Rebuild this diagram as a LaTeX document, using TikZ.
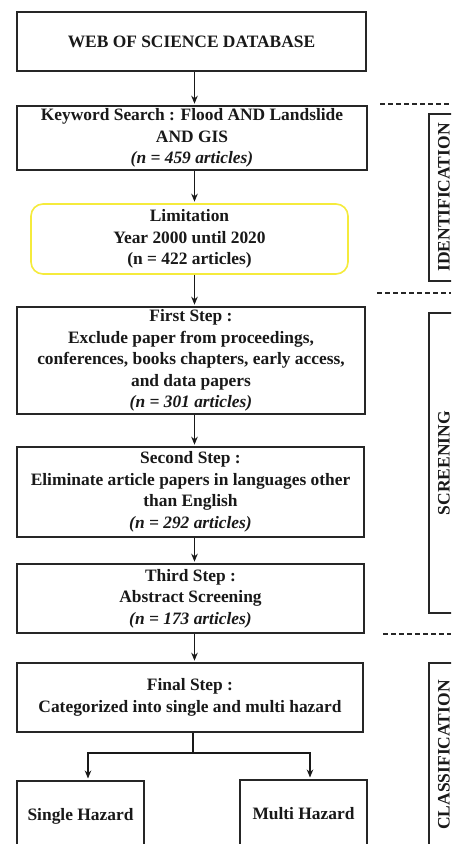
\documentclass[tikz,border=0pt]{standalone}
\usepackage{fontspec}
\setmainfont{Liberation Serif}
\usetikzlibrary{calc,arrows.meta}
\begin{document}
\begin{tikzpicture}[x=1pt,y=-1pt,
  box/.style={draw=black!85, line width=1.6pt, inner sep=0pt, align=center,
    font=\bfseries\fontsize{17.4}{21.6}\selectfont, text=black!90},
  limbox/.style={box, draw={rgb,255:red,245;green,235;blue,60}, rounded corners=12pt},
  sidebox/.style={draw=black!85, line width=1.6pt, inner sep=0pt, rotate=90,
    font=\bfseries\fontsize{17.5}{20}\selectfont, text=black!90},
  arr/.style={line width=1.5pt, draw=black!90, -{Stealth[length=8pt,width=6.5pt]}, shorten >=1.5pt},
  link/.style={line width=1.5pt, draw=black!90},
  dashline/.style={line width=1.4pt, draw=black!85, dash pattern=on 5pt off 3pt}
]
\fill[white] (0,0) rectangle (451,844);
\clip (0,0) rectangle (451,844);

\node[box, minimum width=349pt, minimum height=59pt] (wos) at (191.5,41.5) {WEB OF SCIENCE DATABASE};
\node[box, minimum width=350pt, minimum height=64pt] (kw) at (192,138) {Keyword Search : Flood AND Landslide\\AND GIS\\\textit{(n = 459 articles)}};
\node[limbox, minimum width=317pt, minimum height=70pt] (lim) at (189.5,239) {Limitation\\Year 2000 until 2020\\(n = 422 articles)};
\node[box, minimum width=348pt, minimum height=107pt] (s1) at (191,360.5) {First Step :\\Exclude paper from proceedings,\\conferences, books chapters, early access,\\and data papers\\\textit{(n = 301 articles)}};
\node[box, minimum width=347pt, minimum height=90pt] (s2) at (190.5,492) {Second Step :\\Eliminate article papers in languages other\\than English\\\textit{(n = 292 articles)}};
\node[box, minimum width=347pt, minimum height=69pt] (s3) at (190.5,598.5) {Third Step :\\Abstract Screening\\\textit{(n = 173 articles)}};
\node[box, minimum width=346pt, minimum height=69pt] (fin) at (190,697.5) {Final Step :\\Categorized into single and multi hazard};
\node[box, minimum width=127pt, minimum height=72pt, anchor=north] (sh) at (80.5,780) {Single Hazard};
\node[box, minimum width=127pt, minimum height=68pt, anchor=north] (mh) at (303.5,779) {Multi Hazard};

\coordinate (ax) at (194.5,0);
\draw[arr] (wos.south -| ax) -- (kw.north -| ax);
\draw[arr] (kw.south -| ax) -- (lim.north -| ax);
\draw[arr] (lim.south -| ax) -- (s1.north -| ax);
\draw[arr] (s1.south -| ax) -- (s2.north -| ax);
\draw[arr] (s2.south -| ax) -- (s3.north -| ax);
\draw[arr] (s3.south -| ax) -- (fin.north -| ax);

\coordinate (bj) at (193,753);
\coordinate (bl) at (88,753);
\coordinate (br) at (310,753);
\draw[link] (fin.south -| bj) -- (bj);
\draw[link] ([xshift=-0.75pt]bl) -- ([xshift=0.75pt]br);
\draw[arr] (bl) -- (bl |- sh.north);
\draw[arr] (br) -- (br |- mh.north);

\node[sidebox, minimum width=167pt, minimum height=30pt] (idb) at (444,197.5) {IDENTIFICATION};
\node[sidebox, minimum width=300pt, minimum height=30pt] (scb) at (444,463) {SCREENING};
\node[sidebox, minimum width=184pt, minimum height=30pt] (clb) at (444,755) {CLASSIFICATION};

\coordinate (d1a) at (380,104); \coordinate (d1b) at (451,104);
\coordinate (d2a) at (377,293); \coordinate (d2b) at (451,293);
\coordinate (d3a) at (383,634); \coordinate (d3b) at (451,634);
\draw[dashline] (d1a) -- (d1b);
\draw[dashline] (d2a) -- (d2b);
\draw[dashline] (d3a) -- (d3b);
\end{tikzpicture}
\end{document}
